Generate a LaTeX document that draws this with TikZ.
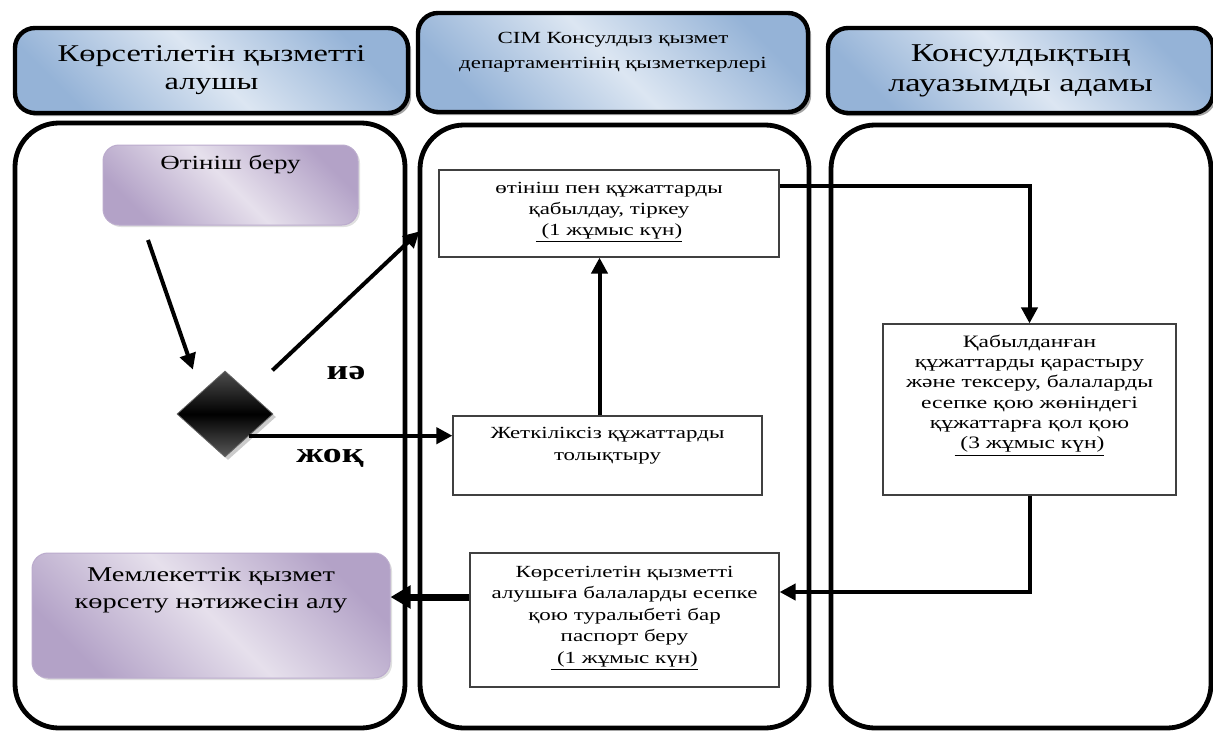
\documentclass[tikz,border=0pt]{standalone}
\usepackage{fontspec}
\setmainfont{Liberation Serif}[FakeStretch=1.35]
\usetikzlibrary{arrows.meta,shapes.geometric,shadows}
\definecolor{headdark}{HTML}{95B3D7}
\definecolor{headlight}{HTML}{DCE6F2}
\definecolor{lilacdark}{HTML}{B3A2C7}
\definecolor{lilaclight}{HTML}{E6E0EC}
% text block pinned to the top of a box: width, height, top gap, text
\newcommand{\boxtxt}[4]{\parbox[c][#2][t]{#1}{\centering\vspace*{#3}\strut#4\par}}

\begin{document}
\begin{tikzpicture}[x=0.5pt,y=-0.5pt,
    lane/.style={line width=2.4pt,rounded corners=22pt},
    headbox/.style={draw=black,line width=2.2pt,rounded corners=10pt,inner sep=0pt,
        left color=headdark,right color=headdark,middle color=headlight,shading angle=135,
        drop shadow={shadow xshift=1.6pt,shadow yshift=-1.6pt,fill=black!60,opacity=0.6}},
    lilacbox/.style={draw=lilacdark!90,line width=0.5pt,rounded corners=8pt,inner sep=0pt,
        left color=lilacdark,right color=lilacdark,middle color=lilaclight,shading angle=135,
        drop shadow={shadow xshift=1pt,shadow yshift=-1pt,fill=black!40,opacity=0.3}},
    stepbox/.style={draw=black!75,line width=0.6pt,fill=white,inner sep=0pt},
    decision/.style={diamond,draw=black!60,line width=0.4pt,minimum width=48pt,minimum height=43pt,
        inner sep=0pt,top color=black!70,bottom color=black!65,middle color=black,
        drop shadow={shadow xshift=1.5pt,shadow yshift=-1.5pt,fill=black!50,opacity=0.4}},
    answer/.style={font=\bfseries\fontsize{14}{16}\selectfont,inner sep=0pt},
    flow/.style={line width=2pt,-{Triangle[length=8pt,width=8pt]}}]
    \useasboundingbox (0,0) rectangle (1213,733);

    % swimlanes
    \draw[lane] (15,123) rectangle (405,728);
    \draw[lane] (420,125) rectangle (809,728);
    \draw[lane] (831,125) rectangle (1211,728);

    % lane headers
    \node[headbox,minimum width=196.5pt,minimum height=42.5pt,align=center,
        font=\fontsize{12}{14}\selectfont] (client) at (211.5,70.5) {Көрсетілетін қызметті\\алушы};
    \node[headbox,minimum width=195pt,minimum height=49.5pt,
        font=\fontsize{8.5}{12.5}\selectfont] (staff) at (613,62.5)
        {\boxtxt{190pt}{49.5pt}{6.5pt}{СІМ Консулдыз қызмет\\департаментінің қызметкерлері}};
    \node[headbox,minimum width=192.5pt,minimum height=42.5pt,align=center,
        font=\fontsize{12.8}{15}\selectfont] (consul) at (1020.5,70.5) {Консулдықтың\\лауазымды адамы};

    % steps
    \node[lilacbox,font=\fontsize{10}{13}\selectfont] (give) at (230.5,185)
        {\boxtxt{127.5pt}{40pt}{2.9pt}{Өтініш беру}};
    \node[decision] (dec) at (225,414) {};
    \node[stepbox,font=\fontsize{8.5}{10.5}\selectfont] (recv) at (609,213.5)
        {\boxtxt{170pt}{43.5pt}{4.2pt}{өтініш пен құжаттарды\\қабылдау, тіркеу\\\underline{\ (1 жұмыс күн)}}};
    \node[stepbox,font=\fontsize{8.5}{11}\selectfont] (fill) at (607.5,455.5)
        {\boxtxt{154.5pt}{39.5pt}{3.4pt}{Жеткіліксіз құжаттарды\\толықтыру}};
    \node[stepbox,font=\fontsize{8.7}{10.1}\selectfont] (check) at (1029.5,409.5)
        {\boxtxt{146.5pt}{85.5pt}{4.7pt}{Қабылданған\\құжаттарды қарастыру\\және тексеру, балаларды\\есепке қою жөніндегі\\құжаттарға қол қою\\\underline{\ (3 жұмыс күн)}}};
    \node[stepbox,font=\fontsize{8.5}{10.75}\selectfont] (issue) at (624.5,620)
        {\boxtxt{154.5pt}{67pt}{4.5pt}{Көрсетілетін қызметті\\алушыға балаларды есепке\\қою туралыбеті бар\\паспорт беру\\\underline{\ (1 жұмыс күн)}}};
    \node[lilacbox,font=\fontsize{10.5}{13.5}\selectfont] (result) at (211,615.5)
        {\boxtxt{179pt}{62.5pt}{4.7pt}{Мемлекеттік қызмет\\көрсету нәтижесін алу}};

    % answers
    \node[answer] (yes) at (346,373) {иә};
    \node[answer] (no) at (330,458) {жоқ};

    % connectors
    \coordinate (pen) at (148,240);
    \draw[flow,shorten >=12pt] (pen) -- (dec.north west);
    \draw[flow,shorten <=16pt,shorten >=13pt] (dec.north east) -- (recv.west);
    \draw[flow] (dec.south east) -- (dec.south east -| fill.west);
    \draw[flow] ([xshift=-4pt]fill.north) -- ([xshift=-4pt]fill.north |- recv.south);
    \draw[flow] ([yshift=14pt]recv.east) -| (check.north);
    \draw[flow] (check.south) |- ([yshift=14pt]issue.east);
    \draw[line width=3.5pt,-{Triangle[length=10pt,width=11pt]}] ([yshift=11.5pt]issue.west)
        -- ([yshift=11.5pt]issue.west -| result.east);
\end{tikzpicture}
\end{document}
